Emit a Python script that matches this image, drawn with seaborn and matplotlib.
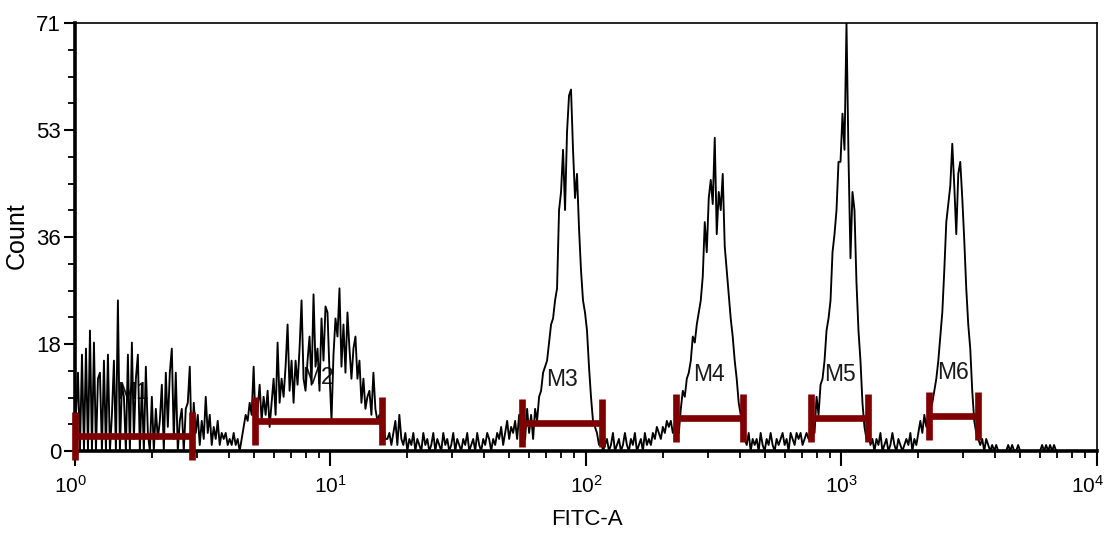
import numpy as np
import pandas as pd
import matplotlib
matplotlib.use("Agg")
import matplotlib.pyplot as plt
from matplotlib.ticker import FixedLocator, FixedFormatter, NullFormatter
from matplotlib.transforms import ScaledTranslation
import seaborn as sns

# Histogram counts, 128 log-spaced channels per decade (FITC-A, 10^0 .. 10^4)
counts_dec0 = [
    6, 13, 0, 16, 0, 17, 0, 20, 0, 18, 0, 12, 13, 0, 15, 0,
    16, 0, 6, 15, 0, 25, 0, 11, 9, 0, 16, 0, 18, 2, 12, 16,
    0, 11, 0, 14, 3, 0, 9, 0, 7, 2, 5, 11, 0, 13, 4, 13,
    17, 2, 13, 0, 5, 7, 0, 7, 8, 14, 0, 8, 3, 6, 1, 5,
    2, 9, 3, 6, 1, 4, 2, 5, 1, 3, 2, 3, 1, 2, 1, 3,
    1, 2, 0, 2, 4, 6, 5, 8, 6, 14, 4, 7, 11, 5, 9, 6,
    10, 4, 8, 12, 6, 18, 8, 12, 9, 14, 21, 10, 15, 8, 15, 11,
    17, 25, 12, 10, 15, 19, 11, 26, 14, 17, 10, 22, 15, 24, 23, 13,
]
counts_dec1 = [
    5, 16, 22, 19, 27, 14, 21, 13, 23, 17, 12, 17, 19, 12, 15, 8,
    12, 7, 9, 10, 6, 13, 7, 5, 6, 3, 4, 2, 2, 3, 1, 3,
    5, 1, 6, 2, 1, 3, 0, 2, 1, 3, 0, 2, 1, 0, 3, 1,
    2, 0, 1, 3, 0, 2, 1, 0, 3, 1, 2, 0, 1, 3, 0, 2,
    1, 0, 2, 1, 3, 0, 1, 2, 0, 3, 1, 0, 2, 1, 3, 2,
    0, 2, 1, 3, 2, 4, 1, 3, 5, 2, 4, 3, 5, 2, 6, 3,
    6, 2, 7, 3, 6, 2, 7, 5, 9, 10, 13, 14, 15, 18, 21, 22,
    25, 27, 40, 43, 50, 40, 53, 59, 60, 50, 42, 46, 37, 30, 25, 23,
]
counts_dec2 = [
    20, 14, 9, 5, 4, 3, 1, 2, 0, 1, 2, 0, 1, 3, 0, 1,
    2, 0, 1, 3, 1, 0, 2, 1, 3, 0, 1, 2, 0, 3, 1, 2,
    1, 3, 2, 4, 3, 2, 4, 3, 5, 4, 5, 3, 4, 7, 3, 7,
    10, 9, 12, 13, 15, 19, 18, 21, 23, 25, 29, 38, 33, 42, 45, 41,
    52, 36, 43, 40, 46, 34, 30, 26, 22, 19, 15, 12, 8, 6, 3, 2,
    1, 3, 0, 2, 1, 2, 0, 3, 1, 0, 2, 1, 3, 1, 0, 2,
    1, 2, 3, 1, 2, 0, 3, 2, 1, 3, 2, 3, 1, 2, 3, 2,
    3, 4, 3, 9, 6, 11, 12, 15, 20, 22, 25, 33, 36, 40, 48, 48,
]
counts_dec3 = [
    56, 50, 71, 49, 32, 43, 40, 28, 20, 15, 8, 4, 2, 3, 1, 2,
    0, 2, 1, 3, 0, 1, 2, 0, 1, 3, 1, 0, 2, 1, 0, 1,
    2, 1, 3, 0, 2, 1, 3, 5, 3, 6, 4, 6, 7, 8, 10, 12,
    15, 19, 23, 30, 38, 41, 44, 51, 44, 36, 46, 48, 42, 35, 27, 21,
    17, 10, 5, 3, 2, 1, 2, 0, 2, 1, 0, 1, 0, 1, 0, 0,
    0, 0, 0, 1, 0, 1, 0, 0, 1, 0, 0, 0, 0, 0, 0, 0,
    0, 0, 0, 0, 1, 0, 1, 0, 1, 0, 1, 0, 0, 0, 0, 0,
    0, 0, 0, 0, 0, 0, 0, 0, 0, 0, 0, 0, 0, 0, 0, 0,
]
channels_per_decade = 128

# Marker gates: name, lower / upper FITC-A bound, drawn height (count)
gate_names = ["M1", "M2", "M3", "M4", "M5", "M6"]
gate_low = [1.0, 5.06, 56.2, 225.0, 760.0, 2200.0]
gate_high = [2.87, 15.9, 115.5, 411.0, 1270.0, 3420.0]
gate_level = [2.5, 5.0, 4.65, 5.5, 5.5, 5.8]

y_ticks = [0, 17.75, 35.5, 53.25, 71]
y_tick_labels = ["0", "18", "36", "53", "71"]
x_ticks = [1, 10, 100, 1000, 10000]
x_tick_labels = [r"$\mathregular{10^{0}}$", r"$\mathregular{10^{1}}$",
                 r"$\mathregular{10^{2}}$", r"$\mathregular{10^{3}}$",
                 r"$\mathregular{10^{4}}$"]

counts = np.array(counts_dec0 + counts_dec1 + counts_dec2 + counts_dec3, dtype=float)
channel = np.arange(counts.size)
fitc = 10 ** ((channel + 0.5) / channels_per_decade)
hist = pd.DataFrame({"FITC-A": fitc, "Count": counts})

sns.set_theme(style="ticks")
plt.rcParams["font.family"] = ["Liberation Sans", "DejaVu Sans"]
plt.rcParams["mathtext.fontset"] = "custom"
plt.rcParams["mathtext.rm"] = "Liberation Sans"
plt.rcParams["mathtext.it"] = "Liberation Sans:italic"
plt.rcParams["mathtext.bf"] = "Liberation Sans:bold"

fig = plt.figure(figsize=(11.11, 5.38), dpi=100)
ax = fig.add_axes([0.0675, 0.1617, 0.9199, 0.795])

ax.set_xscale("log")
sns.lineplot(data=hist, x="FITC-A", y="Count", ax=ax, color="black",
             linewidth=1.35, zorder=3, estimator=None, sort=False)

gate_color = "#7f0000"
cap_half = 3.95
for name, lo, hi, lev in zip(gate_names, gate_low, gate_high, gate_level):
    ax.plot([lo, hi], [lev, lev], color=gate_color, lw=4.8,
            solid_capstyle="butt", zorder=4, clip_on=False)
    for xe in (lo, hi):
        ax.plot([xe, xe], [lev - cap_half, lev + cap_half], color=gate_color,
                lw=4.8, solid_capstyle="butt", zorder=4, clip_on=False)
    xc = np.sqrt(lo * hi)
    ax.text(xc, lev + 7.2, name, ha="center", va="center", fontsize=16.5,
            color="#1a1a1a", zorder=2)

ax.set_xlim(1, 10000)
ax.set_ylim(0, 71)

ax.xaxis.set_major_locator(FixedLocator(x_ticks))
ax.xaxis.set_major_formatter(FixedFormatter(x_tick_labels))
minor_x = [m * 10 ** d for d in range(4) for m in range(2, 10)]
ax.xaxis.set_minor_locator(FixedLocator(minor_x))
ax.xaxis.set_minor_formatter(NullFormatter())

ax.yaxis.set_major_locator(FixedLocator(y_ticks))
ax.yaxis.set_major_formatter(FixedFormatter(y_tick_labels))
ax.yaxis.set_minor_locator(FixedLocator(np.arange(0, 71.01, 71 / 16)))

ax.tick_params(axis="both", which="major", direction="out", length=8,
               width=1.5, color="black", labelsize=16, labelcolor="black")
ax.tick_params(axis="both", which="minor", direction="out", length=5,
               width=1.3, color="black")
ax.tick_params(axis="y", which="major", pad=2)
ax.tick_params(axis="x", which="major", length=11, pad=6, labelsize=15)

# keep the outermost decade labels inside the figure
fig.canvas.draw()
xlabels = ax.get_xticklabels()
for lbl, dx in ((xlabels[0], -4), (xlabels[-1], -9)):
    lbl.set_transform(lbl.get_transform()
                      + ScaledTranslation(dx / 100, 0, fig.dpi_scale_trans))

for side in ("left", "bottom"):
    ax.spines[side].set_linewidth(2.6)
for side in ("top", "right"):
    ax.spines[side].set_linewidth(1.2)
for sp in ax.spines.values():
    sp.set_color("black")
    sp.set_visible(True)

ax.set_xlabel("FITC-A", fontsize=16, color="black")
ax.set_ylabel("Count", fontsize=18, color="black")
ax.xaxis.set_label_coords(0.501, -0.135)
ax.yaxis.set_label_coords(-0.045, 0.503)
ax.grid(False)

fig.savefig("out.png", dpi=100, facecolor="white")
